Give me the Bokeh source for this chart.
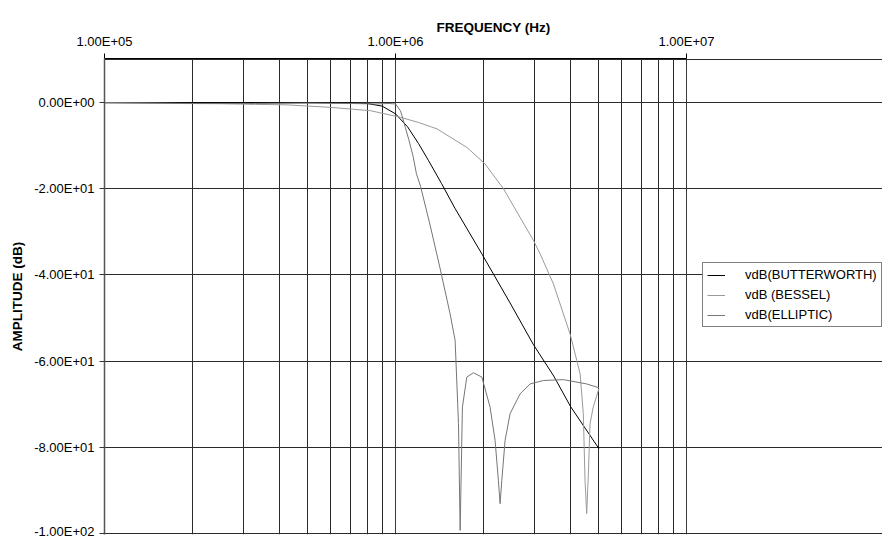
from bokeh.plotting import figure
from bokeh.models import FixedTicker, Legend, LegendItem, Range1d
from bokeh.embed import file_html
from bokeh.resources import INLINE

# ---- data ----
freq_ticks = [100000, 1000000, 10000000]
freq_tick_labels = ["1.00E+05", "1.00E+06", "1.00E+07"]
freq_minor_ticks = [2e5, 3e5, 4e5, 5e5, 6e5, 7e5, 8e5, 9e5,
                    2e6, 3e6, 4e6, 5e6, 6e6, 7e6, 8e6, 9e6]
amp_ticks = [0, -20, -40, -60, -80, -100]
amp_tick_labels = ["0.00E+00", "-2.00E+01", "-4.00E+01", "-6.00E+01", "-8.00E+01", "-1.00E+02"]
amp_top = 10   # upper limit of the amplitude axis (border line, no label)

butter_f = [1e5, 2e5, 5e5, 7e5, 8e5, 9e5, 1.0e6, 1.1e6, 1.2e6, 1.3e6, 1.44e6,
            1.6e6, 1.98e6, 2.5e6, 2.98e6, 3.5e6, 4.0e6, 5.0e6]
butter_db = [0, 0, 0, -0.05, -0.2, -0.8, -2.6, -5.6, -9.5, -13.5, -18.8,
             -24.5, -35.1, -47.0, -56.2, -63.5, -70.6, -80.3]

bessel_f = [1e5, 1.8e5, 2.5e5, 3.3e5, 4.2e5, 6.0e5, 8.2e5, 1.04e6, 1.2e6, 1.39e6,
            1.76e6, 2.03e6, 2.35e6, 2.98e6, 3.14e6, 3.49e6, 3.98e6, 4.2e6, 4.31e6,
            4.42e6, 4.48e6, 4.54e6, 4.6e6, 4.66e6, 4.78e6, 5.0e6]
bessel_db = [-0.05, -0.2, -0.25, -0.4, -0.5, -1.1, -1.86, -3.4, -4.6, -6.1,
             -10.4, -14.2, -20.0, -32.0, -35.1, -42.1, -53.7, -59.9, -63.0,
             -72.2, -87.7, -95.4, -86.2, -74.6, -70.7, -66.4]

ellip_f = [1e5, 2e5, 3.3e5, 5e5, 7e5, 8.5e5, 9.5e5, 1.0e6, 1.04e6, 1.06e6,
           1.08e6, 1.11e6, 1.15e6, 1.18e6, 1.22e6, 1.32e6, 1.42e6, 1.54e6,
           1.603e6, 1.646e6, 1.668e6, 1.698e6, 1.758e6, 1.853e6, 1.98e6,
           2.114e6, 2.199e6, 2.257e6, 2.288e6, 2.319e6, 2.38e6, 2.476e6,
           2.68e6, 2.901e6, 3.222e6, 3.773e6, 4.541e6, 5.0e6]
ellip_db = [0, -0.2, -0.2, -0.1, -0.2, -0.3, -0.2, -0.3, -1.9, -3.7,
            -5.7, -8.5, -12.5, -16.5, -19.5, -28.9, -38.2, -49.0,
            -55.2, -74.5, -99.3, -70.7, -63.7, -62.7, -63.7,
            -70.7, -78.4, -87.7, -93.1, -87.7, -78.4, -72.2,
            -67.6, -65.3, -64.5, -64.3, -65.3, -66.2]

series_names = ["vdB(BUTTERWORTH)", "vdB (BESSEL)", "vdB(ELLIPTIC)"]
series_colors = ["#000000", "#9a9a9a", "#767676"]

FONT = "Liberation Sans"
X_START, X_END = 1e5, 1e7          # visible data span of the grid
PLOT_LEFT, PLOT_RIGHT, CANVAS_W = 104, 686, 882
decade_px = (PLOT_RIGHT - PLOT_LEFT) / 2.0
# frame extends to the canvas edge so the legend (outside the grid) is not clipped
x_frame_end = 10 ** (7 + (CANVAS_W - PLOT_RIGHT) / decade_px)
pad = 0.25   # small margin so the border grid lines at 10 and -100 are not clipped

p = figure(width=CANVAS_W, height=538, x_axis_type="log", x_axis_location="above",
           x_range=Range1d(X_START, x_frame_end),
           y_range=Range1d(amp_ticks[-1] - pad, amp_top + pad),
           output_backend="svg", toolbar_location=None,
           min_border_left=PLOT_LEFT, min_border_right=0,
           min_border_top=58, min_border_bottom=4)

p.outline_line_color = None
p.background_fill_color = "white"
p.border_fill_color = "white"

xt = FixedTicker(ticks=freq_ticks, minor_ticks=freq_minor_ticks)
p.xaxis.ticker = xt
p.xgrid.ticker = xt
p.xaxis.major_label_overrides = dict(zip(freq_ticks, freq_tick_labels))
p.xaxis.bounds = (X_START, X_END)
p.yaxis.ticker = FixedTicker(ticks=amp_ticks)
p.ygrid.ticker = FixedTicker(ticks=amp_ticks + [amp_top])
p.yaxis.major_label_overrides = dict(zip(amp_ticks, amp_tick_labels))
p.ygrid.bounds = (X_START, X_END)

p.xgrid.grid_line_color = "#3a3a3a"
p.xgrid.minor_grid_line_color = "#2b2b2b"
p.ygrid.grid_line_color = "#2b2b2b"

for ax in (p.xaxis, p.yaxis):
    ax.major_tick_out = 5
    ax.major_tick_in = 0
    ax.minor_tick_line_color = None
    ax.major_label_text_font = FONT
    ax.major_label_text_font_size = "13px"
    ax.major_label_text_color = "black"
    ax.major_label_standoff = 5
    ax.axis_label_text_font = FONT
    ax.axis_label_text_font_size = "13.5px"
    ax.axis_label_text_font_style = "bold"
    ax.axis_label_text_color = "black"

p.xaxis.axis_label = "FREQUENCY (Hz)"
p.xaxis.axis_label_standoff = -4
p.xaxis.axis_line_color = "black"
p.xaxis.major_tick_line_color = "black"
p.yaxis.axis_label = "AMPLITUDE (dB)"
p.yaxis.axis_label_standoff = 6
p.yaxis.axis_line_color = "#555555"
p.yaxis.axis_line_width = 1.5
p.yaxis.major_tick_line_color = "#333333"

r1 = p.line(butter_f, butter_db, line_color=series_colors[0], line_width=1)
r2 = p.line(bessel_f, bessel_db, line_color=series_colors[1], line_width=1)
r3 = p.line(ellip_f, ellip_db, line_color=series_colors[2], line_width=1)

legend = Legend(items=[LegendItem(label=series_names[0], renderers=[r1]),
                       LegendItem(label=series_names[1], renderers=[r2]),
                       LegendItem(label=series_names[2], renderers=[r3])],
                location=(598, 207))
legend.border_line_color = "black"
legend.border_line_width = 1
legend.background_fill_color = "white"
legend.background_fill_alpha = 1
legend.label_text_font = FONT
legend.label_text_font_size = "13px"
legend.label_text_color = "black"
legend.glyph_width = 18
legend.glyph_height = 14
legend.label_height = 14
legend.label_standoff = 20
legend.spacing = 5
legend.padding = 4
legend.margin = 0
p.add_layout(legend)

open("out.html", "w").write(file_html(p, INLINE))
